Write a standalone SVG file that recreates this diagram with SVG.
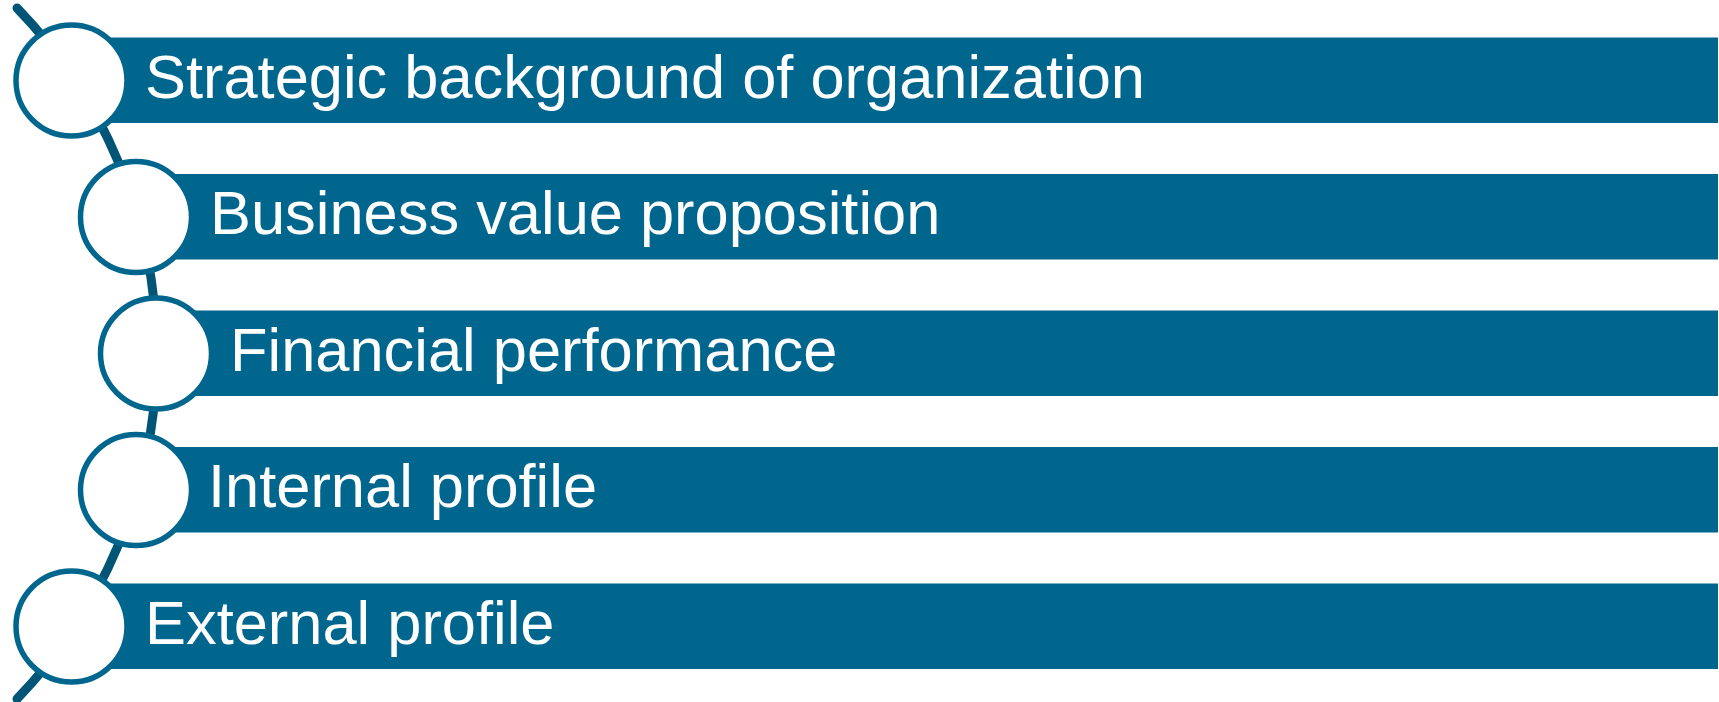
<svg xmlns="http://www.w3.org/2000/svg" width="1719" height="702" viewBox="0 0 1719 702">
  <style>
    .bar { fill: #00668e; }
    .node circle { fill: #ffffff; stroke: #00668e; stroke-width: 5.5; }
    .label { font-family: "Liberation Sans", Arial, sans-serif; font-size: 61.4px; fill: #ffffff; }
    .arc { fill: none; stroke: #005577; stroke-width: 9; stroke-linecap: round; }
  </style>
  <rect width="1719" height="702" fill="#ffffff"/>
  <g id="connectors">
    <path class="arc" d="M 17 8 A 497 497 0 0 1 17 699"/>
  </g>
  <g id="node1" class="node">
    <rect class="bar" x="71" y="37.5" width="1647" height="85.5"/>
    <circle cx="71.5" cy="80.5" r="55.5"/>
    <text class="label" x="145" y="97.5">Strategic background of organization</text>
  </g>
  <g id="node2" class="node">
    <rect class="bar" x="136" y="174" width="1582" height="85.5"/>
    <circle cx="136" cy="217" r="55.5"/>
    <text class="label" x="210" y="234">Business value proposition</text>
  </g>
  <g id="node3" class="node">
    <rect class="bar" x="156" y="310.5" width="1562" height="85.5"/>
    <circle cx="156" cy="353.5" r="55.5"/>
    <text class="label" x="230" y="370.5">Financial performance</text>
  </g>
  <g id="node4" class="node">
    <rect class="bar" x="136" y="447" width="1582" height="85.5"/>
    <circle cx="136" cy="490" r="55.5"/>
    <text class="label" x="208" y="507">Internal profile</text>
  </g>
  <g id="node5" class="node">
    <rect class="bar" x="71" y="583.5" width="1647" height="85.5"/>
    <circle cx="71.5" cy="626.5" r="55.5"/>
    <text class="label" x="145" y="643.5">External profile</text>
  </g>
</svg>
